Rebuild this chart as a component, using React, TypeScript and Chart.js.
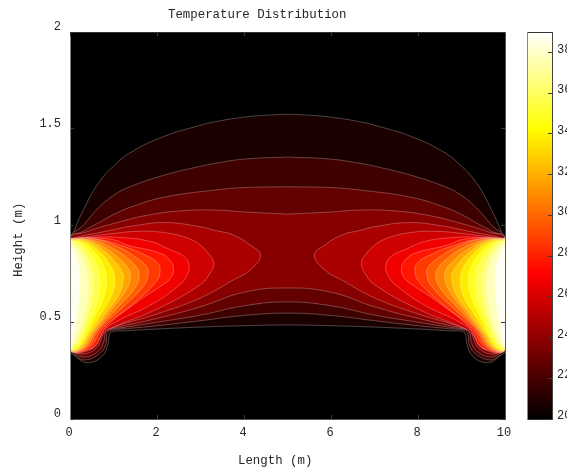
import React, { useEffect, useRef } from "react";
import { Chart, registerables } from "chart.js";

Chart.register(...registerables);

const titleText = "Temperature Distribution";
const xLabelText = "Length (m)";
const yLabelText = "Height (m)";
const colorbarRange: [number, number] = [20, 39];

// Contour outlines, left half (the field is mirror-symmetric about x = 5), [x, y].
// Levels 1-4 span the whole width: centre top -> wall -> centre bottom.
const contour01 = [[5,1.575],[4.5,1.57],[4,1.56],[3.33,1.536],[2.95,1.515],[2.18,1.462],[1.42,1.381],[1.03,1.313],[0.65,1.218],[0.27,1.063],[0.05,0.95],[0,0.93],[0,0.36],[0.04,0.348],[0.2,0.31],[0.42,0.291],[0.73,0.322],[0.88,0.39],[0.9,0.43],[0.96,0.451],[1.2,0.455],[2,0.465],[3,0.475],[4,0.482],[5,0.486]];
const contour02 = [[5,1.354],[4,1.343],[3.33,1.321],[2.95,1.304],[2.18,1.261],[1.42,1.204],[1.03,1.16],[0.65,1.09],[0.3,1.0],[0,0.93],[0,0.355],[0.15,0.325],[0.35,0.305],[0.69,0.34],[0.83,0.39],[0.85,0.44],[0.95,0.46],[1.2,0.465],[2,0.482],[3,0.508],[4,0.535],[5,0.547]];
const contour03 = [[5,1.2],[4,1.196],[3.33,1.183],[2.18,1.147],[1.42,1.097],[1.03,1.06],[0.65,1.013],[0.3,0.97],[0,0.93],[0,0.36],[0.12,0.34],[0.33,0.32],[0.65,0.35],[0.78,0.4],[0.82,0.45],[0.95,0.465],[1.2,0.472],[2,0.5],[3,0.537],[4,0.585],[5,0.605]];
const contour04 = [[5,1.059],[4,1.07],[3.33,1.08],[2.57,1.076],[1.8,1.054],[1.03,1.012],[0.35,0.965],[0,0.93],[0,0.362],[0.1,0.35],[0.3,0.335],[0.6,0.365],[0.73,0.42],[0.8,0.455],[0.95,0.47],[1.2,0.48],[2,0.52],[3,0.58],[4,0.655],[5,0.677]];
// Levels 5-19 are closed C shapes on the wall: wall top -> nose -> wall bottom.
const contour05 = [[0,0.93],[0.35,0.95],[0.65,0.962],[1.03,0.98],[1.42,0.997],[2.18,1.015],[2.99,0.994],[3.33,0.975],[3.75,0.951],[4.14,0.899],[4.38,0.847],[4.14,0.77],[3.75,0.718],[2.99,0.625],[2,0.543],[1.2,0.49],[0.92,0.47],[0.76,0.45],[0.69,0.42],[0.56,0.375],[0.3,0.35],[0.08,0.358],[0,0.365]];
const contour06 = [[0,0.93],[0.5,0.945],[1.03,0.96],[1.6,0.97],[2.18,0.963],[2.7,0.935],[2.99,0.899],[3.2,0.85],[3.3,0.806],[3.22,0.754],[2.99,0.693],[2,0.568],[1,0.475],[0.8,0.45],[0.65,0.41],[0.6,0.38],[0.45,0.36],[0.25,0.36],[0,0.365]];
const contour07 = [[0,0.934],[0.7,0.94],[1.03,0.94],[1.8,0.92],[2.3,0.875],[2.62,0.84],[2.74,0.79],[2.66,0.73],[2.5,0.69],[1.9,0.595],[1,0.495],[0.7,0.44],[0.55,0.38],[0.5,0.365],[0,0.365]];
const contour08 = [[0,0.933],[0.65,0.935],[1.03,0.925],[1.3,0.9],[2.07,0.857],[2.3,0.82],[2.38,0.775],[2.3,0.725],[2.07,0.684],[1.61,0.615],[0.85,0.48],[0.5,0.365],[0,0.365]];
const contour09 = [[0,0.932],[0.6,0.93],[1.2,0.895],[1.75,0.845],[2,0.81],[2.07,0.77],[1.98,0.71],[1.4,0.585],[0.78,0.475],[0.42,0.365],[0,0.365]];
const contour10 = [[0,0.932],[0.55,0.93],[1.1,0.89],[1.55,0.83],[1.75,0.79],[1.8,0.755],[1.7,0.69],[1.2,0.575],[0.7,0.47],[0.36,0.365],[0,0.365]];
const contour11 = [[0,0.93],[0.5,0.925],[1,0.88],[1.38,0.82],[1.54,0.78],[1.59,0.745],[1.5,0.68],[1.05,0.565],[0.62,0.46],[0.32,0.365],[0,0.365]];
const contour12 = [[0,0.93],[0.45,0.922],[0.9,0.87],[1.22,0.81],[1.36,0.77],[1.39,0.74],[1.3,0.67],[0.92,0.555],[0.55,0.45],[0.28,0.365],[0,0.365]];
const contour13 = [[0,0.93],[0.4,0.92],[0.8,0.865],[1.08,0.8],[1.2,0.76],[1.23,0.73],[1.14,0.65],[0.8,0.54],[0.48,0.44],[0.24,0.365],[0,0.365]];
const contour14 = [[0,0.928],[0.35,0.915],[0.65,0.87],[0.9,0.805],[1.03,0.73],[0.96,0.64],[0.68,0.53],[0.4,0.43],[0.2,0.365],[0,0.365]];
const contour15 = [[0,0.925],[0.3,0.91],[0.55,0.865],[0.75,0.8],[0.84,0.725],[0.78,0.63],[0.55,0.52],[0.33,0.42],[0.16,0.365],[0,0.365]];
const contour16 = [[0,0.925],[0.25,0.905],[0.45,0.86],[0.62,0.79],[0.69,0.72],[0.64,0.62],[0.45,0.51],[0.26,0.415],[0.12,0.37],[0,0.37]];
const contour17 = [[0,0.92],[0.15,0.905],[0.32,0.86],[0.47,0.79],[0.54,0.71],[0.5,0.62],[0.36,0.5],[0.2,0.41],[0.05,0.37],[0,0.37]];
const contour18 = [[0,0.915],[0.2,0.87],[0.36,0.79],[0.42,0.7],[0.38,0.6],[0.26,0.49],[0.14,0.41],[0,0.37]];
const contour19 = [[0,0.9],[0.12,0.85],[0.21,0.78],[0.23,0.7],[0.2,0.6],[0.14,0.5],[0.07,0.42],[0,0.38]];

const spanningContours = [contour01, contour02, contour03, contour04];
const wallContours = [contour05, contour06, contour07, contour08, contour09, contour10, contour11, contour12, contour13, contour14, contour15, contour16, contour17, contour18, contour19];

const bandColors = ["#1b0000","#3f0000","#630000","#860000","#aa0000","#ce0000","#f10000","#ff1600","#ff3a00","#ff5e00","#ff8200","#ffa500","#ffc900","#ffed00","#ffff1b","#ffff51","#ffff86","#ffffbc","#fffff1"];

const xTickStep = 2;
const yTickStep = 0.5;
const colorbarTickStep = 2;

const FONT = "'Liberation Mono', monospace";
const INK = "#262626";
const LINE = "rgba(255,255,255,0.38)";

type Pt = number[];
const mirror = (p: Pt[]) => p.map(([x, y]) => [10 - x, y]);
const toXY = (p: Pt[]) => p.map(([x, y]) => ({ x, y }));

function contourDataset(points: Pt[], level: number) {
  return {
    data: toXY(points),
    showLine: true,
    fill: "shape",
    backgroundColor: bandColors[level],
    borderColor: LINE,
    borderWidth: 0.7,
    pointRadius: 0,
    tension: 0.45,
    order: 100 - level,
  };
}

function buildDatasets() {
  const out: any[] = [];
  spanningContours.forEach((c, i) => {
    const full = [...c, ...mirror(c).reverse().slice(1)];
    out.push(contourDataset(full, i));
  });
  wallContours.forEach((c, i) => {
    const level = i + spanningContours.length;
    const closed = [...c, c[0]];
    out.push(contourDataset(closed, level));
    out.push(contourDataset(mirror(closed), level));
  });
  return out;
}

const textPlugin = {
  id: "figureText",
  beforeDatasetsDraw(chart: any) {
    const { ctx, chartArea: a } = chart;
    ctx.save();
    ctx.fillStyle = "#000";
    ctx.fillRect(a.left, a.top, a.right - a.left, a.bottom - a.top);
    ctx.restore();
  },
  afterDraw(chart: any) {
    const { ctx } = chart;
    ctx.save();
    ctx.fillStyle = INK;
    ctx.font = `12.4px ${FONT}`;
    ctx.textBaseline = "alphabetic";
    ctx.textAlign = "left";
    ctx.fillText(titleText, 168, 18);
    ctx.fillText(xLabelText, 238, 464);
    ctx.translate(22, 277);
    ctx.rotate(-Math.PI / 2);
    ctx.fillText(yLabelText, 0, 0);
    ctx.restore();
  },
};

const tickGrid = (color = "#3a3a3a") => ({
  drawOnChartArea: false,
  drawTicks: true,
  tickLength: -4,
  color,
  lineWidth: 1,
  z: 1,
});

export default function App() {
  const mainRef = useRef<HTMLCanvasElement>(null);
  const barRef = useRef<HTMLCanvasElement>(null);

  useEffect(() => {
    const main = new Chart(mainRef.current!, {
      type: "scatter",
      data: { datasets: buildDatasets() },
      plugins: [textPlugin],
      options: {
        animation: false,
        responsive: false,
        devicePixelRatio: 1,
        layout: { padding: { left: 0, right: 62, top: 32, bottom: 0 } },
        plugins: { legend: { display: false }, tooltip: { enabled: false }, title: { display: false } },
        events: [],
        scales: {
          x: {
            type: "linear", position: "bottom", min: 0, max: 10,
            afterFit: (s: any) => { s.height = 50; },
            grid: tickGrid(),
            border: { color: "#555", width: 1, z: 1 },
            ticks: { stepSize: xTickStep, padding: 11, labelOffset: -1, maxRotation: 0, color: INK, font: { family: FONT, size: 12 } },
          },
          y: {
            type: "linear", position: "left", min: 0, max: 2,
            afterFit: (s: any) => { s.width = 70; },
            grid: tickGrid(),
            border: { color: "#808080", width: 1, z: 1 },
            ticks: { stepSize: yTickStep, padding: 13, labelOffset: -5, color: INK, font: { family: FONT, size: 12 }, callback: (v: any) => String(v) },
          },
          x2: {
            type: "linear", axis: "x", position: "top", min: 0, max: 10,
            afterFit: (s: any) => { s.height = 0; },
            grid: tickGrid(),
            border: { color: "#333", width: 1, z: 1 },
            ticks: { stepSize: xTickStep, display: false },
          },
          y2: {
            type: "linear", axis: "y", position: "right", min: 0, max: 2,
            afterFit: (s: any) => { s.width = 0; },
            grid: tickGrid(),
            border: { color: "#555", width: 1, z: 1 },
            ticks: { stepSize: yTickStep, display: false },
          },
        },
      } as any,
    });

    const bar = new Chart(barRef.current!, {
      type: "bar",
      data: {
        labels: ["T"],
        datasets: [{
          data: [colorbarRange],
          barPercentage: 1,
          categoryPercentage: 1,
          borderWidth: 0,
          backgroundColor: (c: any) => {
            const a = c.chart.chartArea;
            if (!a) return "#000";
            const g = c.chart.ctx.createLinearGradient(0, a.bottom, 0, a.top);
            g.addColorStop(0, "#000000");
            g.addColorStop(0.375, "#ff0000");
            g.addColorStop(0.75, "#ffff00");
            g.addColorStop(1, "#ffffff");
            return g;
          },
        }],
      },
      options: {
        animation: false,
        responsive: false,
        devicePixelRatio: 1,
        layout: { padding: { left: 527, right: 0, top: 32, bottom: 50 } },
        plugins: { legend: { display: false }, tooltip: { enabled: false } },
        events: [],
        scales: {
          x: {
            position: "top",
            afterFit: (s: any) => { s.height = 0; },
            grid: { display: false },
            border: { color: "#333", width: 1, z: 1 },
            ticks: { display: false },
          },
          x2: {
            type: "category", labels: ["T"], axis: "x", position: "bottom",
            afterFit: (s: any) => { s.height = 0; },
            grid: { display: false },
            border: { color: "#333", width: 1, z: 1 },
            ticks: { display: false },
          },
          yl: {
            type: "linear", axis: "y", position: "left", min: colorbarRange[0], max: colorbarRange[1],
            afterFit: (s: any) => { s.width = 0; },
            grid: { display: false },
            border: { color: "#888", width: 1, z: 1 },
            ticks: { display: false },
          },
          y: {
            type: "linear", position: "right", min: colorbarRange[0], max: colorbarRange[1],
            afterFit: (s: any) => { s.width = 15; },
            grid: tickGrid(),
            border: { color: "#444", width: 1, z: 1 },
            ticks: { stepSize: colorbarTickStep, includeBounds: false, padding: 9, labelOffset: -3, color: INK, font: { family: FONT, size: 12 } },
          },
        },
      } as any,
    });

    return () => {
      main.destroy();
      bar.destroy();
    };
  }, []);

  const layer: React.CSSProperties = { position: "absolute", left: 0, top: 0, display: "block" };
  return (
    <div style={{ position: "fixed", left: 0, top: 0, width: 567, height: 469, overflow: "hidden", background: "#fff" }}>
      <canvas ref={mainRef} width={567} height={469} style={layer} />
      <canvas ref={barRef} width={567} height={469} style={layer} />
    </div>
  );
}
